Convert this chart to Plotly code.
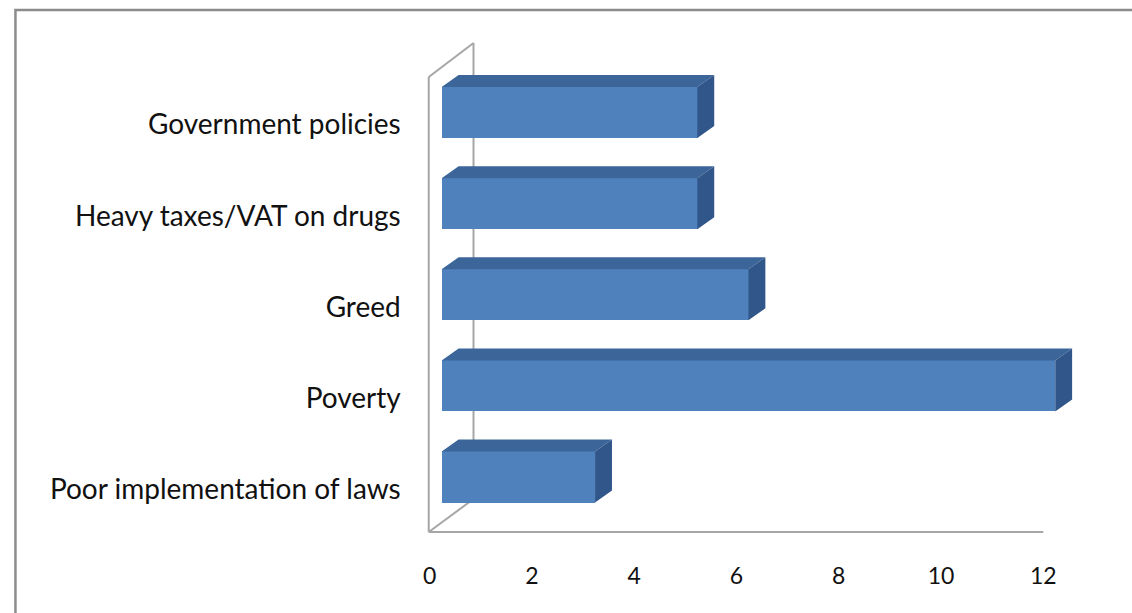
import plotly.graph_objects as go

# ---------------- data ----------------
categories = ["Poor implementation of laws", "Poverty", "Greed",
              "Heavy taxes/VAT on drugs", "Government policies"]
values = [3, 12, 6, 5, 5]
x_ticks = [0, 2, 4, 6, 8, 10, 12]

# ---------------- layout constants (pixels) ----------------
W, H = 1132, 613
PL, PR, PT, PB = 425, 1100, 30, 532     # plot area
SX = 51.4                                # px per value unit
BAR0 = 438                               # px of value 0 at bar front face
AX0 = 426                                # px of value 0 on front axis
CAT0, CSTEP = 477, 91.1                  # bar face centre of first category, step
LAB0 = 489                               # label centre of first category
BAR_W = 0.56
DX = 17 / SX                             # bar depth offset (value units)
DY = 12 / CSTEP                          # bar depth offset (category units)

FRONT = "#4F81BD"
TOP = "#3C6699"
SIDE = "#30568A"
WALL = "#A6A6A6"
FONT = "Lato, Calibri, Carlito, sans-serif"


def xr(zero):
    return [(PL - zero) / SX, (PR - zero) / SX]


def yr(zero):
    return [(zero - PB) / CSTEP, (zero - PT) / CSTEP]


def px(x):
    return x / W


def py(y):
    return 1 - y / H


idx = list(range(len(categories)))

fig = go.Figure()

# front faces
fig.add_trace(go.Bar(
    x=values, y=idx, orientation="h", width=BAR_W, base=0,
    marker=dict(color=FRONT, line=dict(width=0)),
    hoverinfo="x+text", text=categories, textposition="none",
    xaxis="x", yaxis="y", showlegend=False,
))

# top faces and side faces (computed from values)
tx, ty, sx, sy = [], [], [], []
for i, v in zip(idx, values):
    t = i + BAR_W / 2
    b = i - BAR_W / 2
    tx += [0, v, v + DX, DX, 0, None]
    ty += [t, t, t + DY, t + DY, t, None]
    sx += [v, v, v + DX, v + DX, v, None]
    sy += [b, t, t + DY, b + DY, b, None]

fig.add_trace(go.Scatter(x=tx, y=ty, mode="lines", fill="toself",
                         fillcolor=TOP, line=dict(width=0, color=TOP),
                         hoverinfo="skip", showlegend=False,
                         xaxis="x", yaxis="y"))
fig.add_trace(go.Scatter(x=sx, y=sy, mode="lines", fill="toself",
                         fillcolor=SIDE, line=dict(width=0, color=SIDE),
                         hoverinfo="skip", showlegend=False,
                         xaxis="x", yaxis="y"))

# invisible trace to create label axes
fig.add_trace(go.Scatter(x=[0], y=[0], mode="markers",
                         marker=dict(opacity=0), hoverinfo="skip",
                         showlegend=False, xaxis="x2", yaxis="y2"))

dom_x = [px(PL), px(PR)]
dom_y = [py(PB), py(PT)]

# frame (walls, floor, outer border)
shapes = []
def line(x0, y0, x1, y1, color=WALL, width=2, layer="below"):
    shapes.append(dict(type="line", xref="paper", yref="paper",
                       x0=px(x0), y0=py(y0), x1=px(x1), y1=py(y1),
                       line=dict(color=color, width=width), layer=layer))

line(425, 77, 425, 532)      # front wall edge
line(470, 43, 470, 499)      # back wall edge
line(425, 77, 470, 43)       # top diagonal
line(425, 532, 470, 499)     # floor diagonal
line(425, 532, AX0 + 12 * SX, 532)  # floor front edge

shapes.append(dict(type="rect", xref="paper", yref="paper",
                   x0=px(9.5), y0=py(10), x1=px(1160), y1=py(640),
                   line=dict(color="#8C8C8C", width=2.5),
                   fillcolor="rgba(0,0,0,0)", layer="above"))

fig.update_layout(
    width=W, height=H,
    margin=dict(l=0, r=0, t=0, b=0),
    paper_bgcolor="white", plot_bgcolor="rgba(0,0,0,0)",
    font=dict(family=FONT, color="#000000"),
    showlegend=False,
    bargap=0,
    xaxis=dict(domain=dom_x, range=xr(BAR0), showgrid=False, zeroline=False,
               showticklabels=False, showline=False, ticks=""),
    yaxis=dict(domain=dom_y, range=yr(CAT0), showgrid=False, zeroline=False,
               showticklabels=False, showline=False, ticks=""),
    xaxis2=dict(overlaying="x", anchor="y", side="bottom", domain=dom_x,
                range=xr(AX0), showgrid=False, zeroline=False,
                showline=False, ticks="", tickmode="array",
                tickvals=x_ticks, ticktext=[str(t) for t in x_ticks],
                tickfont=dict(size=23, family=FONT, color="#111111"),
                ticklabelstandoff=28),
    yaxis2=dict(overlaying="y", anchor="x", side="left", domain=dom_y,
                range=yr(LAB0), showgrid=False, zeroline=False,
                showline=False, ticks="", tickmode="array",
                tickvals=idx, ticktext=categories,
                tickfont=dict(size=28, family=FONT, color="#111111"),
                ticklabelstandoff=27),
    shapes=shapes,
)

fig.write_html("out.html",
               config={"displayModeBar": False},
               post_script="document.body.style.margin='0';"
                           "document.body.style.overflow='hidden';")
